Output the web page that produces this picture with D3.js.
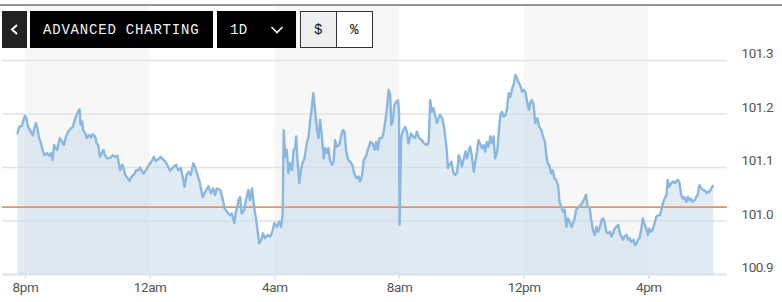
<!DOCTYPE html>
<html>
<head>
<meta charset="utf-8">
<script src="https://cdn.jsdelivr.net/npm/d3@7"></script>
<style>
  html, body { margin: 0; padding: 0; background: #fff; }
  svg { display: block; }
</style>
</head>
<body>
<svg id="chart" width="782" height="302"></svg>
<script>
// price data (time of day, price)
const times = [
  "19:45","19:49","19:54","19:57","20:00","20:03","20:06","20:11","20:15","20:18","20:21","20:24","20:27","20:30","20:33","20:37",
  "20:42","20:46","20:50","20:53","20:56","20:59","21:02","21:07","21:12","21:15","21:19","21:23","21:28","21:32","21:35","21:38",
  "21:42","21:45","21:47","21:50","21:52","21:56","21:59","22:03","22:07","22:10","22:15","22:18","22:21","22:24","22:28","22:31",
  "22:34","22:38","22:44","22:49","22:53","22:58","23:00","23:03","23:07","23:09","23:13","23:17","23:21","23:25","23:30","23:34",
  "23:38","23:41","23:45","23:48","23:53","23:57","00:01","00:05","00:08","00:12","00:17","00:21","00:25","00:30","00:34","00:39",
  "00:44","00:48","00:51","00:55","01:00","01:04","01:07","01:11","01:15","01:19","01:24","01:27","01:32","01:36","01:42","01:47",
  "01:53","01:58","02:02","02:06","02:09","02:16","02:21","02:24","02:29","02:34","02:38","02:43","02:46","02:51","02:54","02:57",
  "03:02","03:06","03:10","03:13","03:17","03:21","03:25","03:28","03:31","03:35","03:38","03:42","03:47","03:52","03:56","04:00",
  "04:05","04:09","04:13","04:16","04:18","04:21","04:24","04:27","04:30","04:34","04:37","04:40","04:42","04:44","04:48","04:51",
  "04:54","04:58","05:03","05:06","05:09","05:12","05:15","05:19","05:22","05:25","05:28","05:31","05:35","05:38","05:41","05:44",
  "05:47","05:51","05:54","05:57","06:00","06:05","06:09","06:12","06:15","06:18","06:22","06:26","06:30","06:34","06:38","06:42",
  "06:45","06:49","06:52","06:56","07:00","07:05","07:09","07:13","07:16","07:19","07:22","07:27","07:30","07:33","07:37","07:40",
  "07:43","07:45","07:48","07:51","07:55","07:58","08:00","08:01","08:04","08:07","08:12","08:15","08:18","08:23","08:27","08:31",
  "08:34","08:39","08:44","08:48","08:54","08:57","09:00","09:03","09:06","09:10","09:13","09:16","09:19","09:23","09:26","09:29",
  "09:32","09:34","09:37","09:41","09:44","09:48","09:52","09:55","09:58","10:01","10:04","10:08","10:11","10:14","10:17","10:20",
  "10:24","10:27","10:30","10:33","10:36","10:40","10:43","10:46","10:49","10:52","10:56","10:59","11:02","11:05","11:09","11:12",
  "11:15","11:18","11:21","11:25","11:28","11:31","11:34","11:38","11:41","11:44","11:47","11:50","11:54","11:57","12:00","12:03",
  "12:07","12:10","12:13","12:16","12:19","12:22","12:26","12:30","12:34","12:37","12:41","12:43","12:46","12:49","12:53","12:56",
  "12:59","13:02","13:06","13:09","13:12","13:16","13:19","13:22","13:25","13:28","13:32","13:35","13:38","13:41","13:46","13:50",
  "13:54","13:57","14:00","14:03","14:07","14:10","14:14","14:17","14:20","14:23","14:26","14:30","14:33","14:36","14:39","14:42",
  "14:46","14:49","14:52","14:55","14:58","15:02","15:05","15:08","15:11","15:14","15:18","15:21","15:24","15:27","15:31","15:34",
  "15:37","15:40","15:43","15:47","15:49","15:52","15:56","15:59","16:02","16:05","16:08","16:12","16:15","16:19","16:22","16:25",
  "16:28","16:31","16:35","16:37","16:40","16:44","16:48","16:51","16:54","16:57","17:00","17:03","17:06","17:09","17:13","17:16",
  "17:19","17:22","17:25","17:29","17:32","17:35","17:38","17:42","17:45","17:49","17:52","17:55","17:58","18:01","18:05"
];
const prices = [
  101.161,101.175,101.177,101.188,101.196,101.190,101.175,101.166,101.159,101.172,101.182,101.172,101.154,101.147,101.135,101.122,
  101.126,101.121,101.126,101.113,101.141,101.135,101.132,101.154,101.146,101.141,101.157,101.166,101.172,101.175,101.185,101.194,
  101.203,101.208,101.179,101.185,101.169,101.163,101.154,101.160,101.155,101.161,101.157,101.144,101.141,101.119,101.126,101.132,
  101.122,101.116,101.117,101.122,101.119,101.121,101.110,101.094,101.104,101.101,101.085,101.080,101.074,101.082,101.086,101.094,
  101.094,101.099,101.093,101.088,101.094,101.101,101.107,101.113,101.119,101.111,101.115,101.119,101.115,101.110,101.104,101.093,
  101.098,101.102,101.104,101.094,101.098,101.079,101.063,101.085,101.091,101.085,101.107,101.101,101.085,101.073,101.044,101.054,
  101.064,101.051,101.060,101.048,101.060,101.057,101.038,101.023,101.016,101.010,101.013,100.995,101.016,101.038,101.044,101.013,
  101.020,101.041,101.057,101.038,101.060,101.026,101.001,100.979,100.957,100.964,100.976,100.967,100.973,100.970,100.979,100.995,
  100.988,100.998,100.988,101.013,101.169,101.119,101.132,101.088,101.107,101.094,101.132,101.135,101.157,101.119,101.070,101.094,
  101.107,101.116,101.147,101.157,101.188,101.210,101.238,101.200,101.169,101.154,101.188,101.163,101.116,101.135,101.126,101.135,
  101.113,101.104,101.110,101.150,101.138,101.141,101.160,101.169,101.166,101.132,101.113,101.110,101.104,101.088,101.079,101.082,
  101.073,101.085,101.113,101.119,101.132,101.147,101.144,101.132,101.147,101.132,101.154,101.154,101.163,101.182,101.213,101.244,
  101.235,101.179,101.185,101.216,101.222,101.225,101.203,100.992,101.154,101.166,101.175,101.166,101.144,101.163,101.157,101.154,
  101.166,101.154,101.150,101.144,101.141,101.147,101.225,101.203,101.210,101.194,101.182,101.191,101.197,101.191,101.179,101.157,
  101.129,101.098,101.104,101.110,101.091,101.085,101.091,101.122,101.113,101.101,101.113,101.129,101.116,101.129,101.138,101.122,
  101.091,101.110,101.129,101.150,101.144,101.135,101.141,101.129,101.147,101.138,101.157,101.144,101.157,101.116,101.129,101.166,
  101.197,101.203,101.194,101.197,101.210,101.238,101.231,101.247,101.256,101.272,101.266,101.259,101.250,101.241,101.244,101.241,
  101.219,101.207,101.222,101.225,101.216,101.182,101.191,101.175,101.169,101.157,101.147,101.126,101.107,101.104,101.088,101.094,
  101.079,101.076,101.066,101.035,101.026,101.016,101.020,100.988,101.004,100.998,100.988,100.995,101.004,101.020,101.026,101.029,
  101.035,101.041,101.048,101.026,101.023,101.001,100.979,100.973,100.988,100.979,100.985,101.001,101.004,100.995,100.979,100.976,
  100.979,100.970,100.976,100.985,100.988,100.992,100.976,100.970,100.964,100.970,100.973,100.964,100.967,100.960,100.964,100.954,
  100.957,100.964,100.967,100.988,101.004,100.995,100.985,100.973,100.985,100.979,100.982,100.995,101.007,101.010,101.010,101.020,
  101.032,101.041,101.048,101.076,101.063,101.070,101.073,101.070,101.073,101.076,101.070,101.048,101.041,101.044,101.035,101.044,
  101.038,101.041,101.035,101.038,101.044,101.048,101.066,101.060,101.057,101.056,101.051,101.054,101.054,101.060,101.066
];
const prevClose = 101.025;
const yTicks = [100.9, 101.0, 101.1, 101.2, 101.3];
const xTickTimes = ["20:00", "00:00", "04:00", "08:00", "12:00", "16:00"];
const buttons = ["", "ADVANCED CHARTING", "1D", "$", "%"];

// anything from 19:00 on belongs to the first day, the rest to the next day
function toDate(hm) {
  const [h, m] = hm.split(":").map(Number);
  return new Date(2024, 0, h >= 19 ? 1 : 2, h, m);
}
const data = times.map((t, i) => ({ date: toDate(t), price: prices[i] }));
const tickDates = xTickTimes.map(toDate);

const svg = d3.select("#chart");
const plotLeft = 2, plotRight = 727, plotTop = 6, plotBottom = 274;

const x = d3.scaleTime()
  .domain([tickDates[0], tickDates[tickDates.length - 1]])
  .range([25, 648.4]);
const y = d3.scaleLinear().domain([100.9, 101.3]).range([plotBottom, 60]);

// top rule
svg.append("line")
  .attr("x1", 0).attr("x2", 782).attr("y1", 5).attr("y2", 5)
  .attr("stroke", "#2a2a2a").attr("stroke-width", 1.2);

// alternating 4h shading
const bands = d3.range(0, tickDates.length - 1, 2).map(i => [tickDates[i], tickDates[i + 1]]);
svg.append("g").selectAll("rect")
  .data(bands)
  .join("rect")
  .attr("x", d => x(d[0]))
  .attr("width", d => x(d[1]) - x(d[0]))
  .attr("y", plotTop)
  .attr("height", plotBottom - plotTop)
  .attr("fill", "#f7f7f7");

// horizontal grid
const grid = svg.append("g")
  .attr("transform", `translate(${plotRight},0)`)
  .call(d3.axisLeft(y).tickValues(yTicks).tickSize(plotRight - plotLeft).tickFormat(""));
grid.select(".domain").remove();
grid.selectAll(".tick line")
  .attr("stroke", d => d === 100.9 ? "#e3e6ea" : "#e2e2e2")
  .attr("stroke-width", d => d === 100.9 ? 2.5 : 1.5);

// area + line
const area = d3.area()
  .x(d => x(d.date))
  .y0(plotBottom)
  .y1(d => y(d.price));
svg.append("path")
  .datum(data)
  .attr("d", area)
  .attr("fill", "#c9dbe9")
  .attr("fill-opacity", 0.55);

// previous close
svg.append("line")
  .attr("x1", plotLeft).attr("x2", plotRight)
  .attr("y1", y(prevClose)).attr("y2", y(prevClose))
  .attr("stroke", "#e39466").attr("stroke-width", 1.6);

const line = d3.line()
  .x(d => x(d.date))
  .y(d => y(d.price));
svg.append("path")
  .datum(data)
  .attr("d", line)
  .attr("fill", "none")
  .attr("stroke", "#89b7e2")
  .attr("stroke-width", 2.4)
  .attr("stroke-linejoin", "round");

// y labels on the right
const yLab = svg.append("g")
  .attr("transform", "translate(773,0)")
  .call(d3.axisLeft(y).tickValues(yTicks).tickSize(0).tickPadding(0).tickFormat(d3.format(".1f")));
yLab.select(".domain").remove();
yLab.selectAll("text")
  .attr("dy", -2.5)
  .attr("fill", "#555")
  .style("font-family", "Roboto, 'Liberation Sans', sans-serif")
  .style("font-size", "13.5px")
  .style("letter-spacing", "-0.5px");

// x axis
const fmt = d3.timeFormat("%-I%p");
const xAx = svg.append("g")
  .attr("transform", `translate(0,${plotBottom + 1})`)
  .call(d3.axisBottom(x).tickValues(tickDates).tickSize(4).tickPadding(3).tickFormat(d => fmt(d).toLowerCase()));
xAx.select(".domain").remove();
xAx.selectAll(".tick line").attr("stroke", "#dfe3e7").attr("stroke-width", 1.5);
xAx.selectAll("text")
  .attr("fill", "#555")
  .style("font-family", "Roboto, 'Liberation Sans', sans-serif")
  .style("font-size", "13.5px")
  .style("letter-spacing", "-0.4px");

// toolbar buttons
const btnBoxes = [
  { x: 2, w: 25, fill: "#222", stroke: "none", color: "#fff" },
  { x: 30, w: 183, fill: "#000", stroke: "none", color: "#f4f4f0" },
  { x: 217, w: 79, fill: "#000", stroke: "none", color: "#f4f4f0" },
  { x: 300.5, w: 36, fill: "#efefef", stroke: "#333", color: "#111" },
  { x: 336.5, w: 36, fill: "#fff", stroke: "#333", color: "#111" }
];
const bar = svg.append("g");
const btn = bar.selectAll("g")
  .data(buttons.map((b, i) => ({ label: b, ...btnBoxes[i] })))
  .join("g");
btn.append("rect")
  .attr("x", d => d.x).attr("y", d => d.stroke === "none" ? 11 : 11.5)
  .attr("width", d => d.w).attr("height", d => d.stroke === "none" ? 37 : 36)
  .attr("fill", d => d.fill)
  .attr("stroke", d => d.stroke);
btn.append("text")
  .attr("x", (d, i) => i === 1 ? 43 : i === 2 ? 230 : d.x + d.w / 2)
  .attr("y", 34)
  .attr("text-anchor", (d, i) => i === 1 || i === 2 ? "start" : "middle")
  .attr("fill", d => d.color)
  .style("font-family", "'Liberation Mono', 'DejaVu Sans Mono', monospace")
  .style("font-size", "14px")
  .style("letter-spacing", (d, i) => i === 1 ? "0.8px" : "0.4px")
  .text(d => d.label);

// back arrow and dropdown chevron
bar.append("path")
  .attr("d", "M17,25 L12,29.5 L17,34")
  .attr("fill", "none")
  .attr("stroke", "#fff")
  .attr("stroke-width", 2);
bar.append("path")
  .attr("d", "M271.5,27 L277,32.5 L282.5,27")
  .attr("fill", "none")
  .attr("stroke", "#f4f4f0")
  .attr("stroke-width", 1.6);
</script>
</body>
</html>
